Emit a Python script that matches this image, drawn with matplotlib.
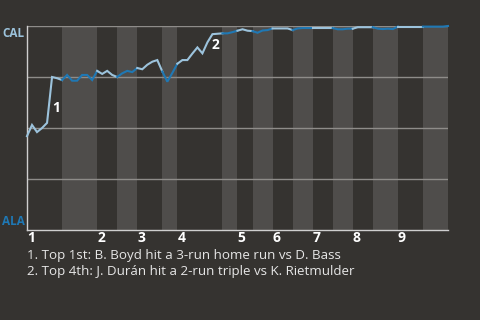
import numpy as np
import matplotlib.pyplot as plt

# CAL win probability after each plate appearance (0 = ALA, 1 = CAL)
win_prob = [0.46, 0.515, 0.48, 0.50, 0.525, 0.75, 0.744, 0.735,
            0.76, 0.732, 0.732, 0.76, 0.76, 0.735, 0.78,
            0.765, 0.78, 0.76, 0.75,
            0.768, 0.78, 0.774, 0.794,
            0.788, 0.81, 0.825, 0.833, 0.777,
            0.727, 0.77, 0.815,
            0.833, 0.833, 0.865, 0.895, 0.866, 0.92, 0.96, 0.962, 0.964,
            0.964, 0.97, 0.977,
            0.984, 0.977, 0.975,
            0.967, 0.978, 0.98, 0.988,
            0.988, 0.988, 0.988, 0.98,
            0.988, 0.99, 0.99, 0.99,
            0.99, 0.99, 0.99, 0.99,
            0.984, 0.984, 0.987, 0.987,
            0.994, 0.994, 0.994, 0.994,
            0.987, 0.985, 0.987, 0.985, 0.997,
            0.997, 0.997, 0.997, 0.997, 0.997,
            0.997, 0.997, 0.997, 0.997, 1.0]

# plate appearances per half inning (top, bottom, top, bottom, ...)
half_pa = [7, 7, 4, 4, 5, 3, 9, 3, 3, 4, 4, 4, 4, 4, 4, 5, 5, 5]
innings = ['1', '2', '3', '4', '5', '6', '7', '8', '9']

notes = [(5.1, 0.6, '1'), (36.9, 0.905, '2')]
footnotes = ['1. Top 1st: B. Boyd hit a 3-run home run vs D. Bass',
             '2. Top 4th: J. Durán hit a 2-run triple vs K. Rietmulder']

bg = '#353330'
band = '#4f4d4b'
light_blue = '#9cc3dc'
dark_blue = '#1f78b4'

plt.rcParams['font.family'] = ['Open Sans', 'DejaVu Sans']

fig = plt.figure(figsize=(4.8, 3.2), dpi=100, facecolor=bg)
ax = fig.add_axes([0.05625, 0.28125, 0.87708, 0.6375])
ax.set_facecolor(bg)

bounds = np.concatenate([[0], np.cumsum(half_pa)])
x = np.arange(len(win_prob))
wp = np.array(win_prob)

for i in range(len(half_pa)):
    a, b = bounds[i], bounds[i + 1]
    if i % 2 == 1:
        ax.axvspan(a, b, color=band, lw=0, zorder=0)
    ax.plot(x[a:b + 1], wp[a:b + 1], color=light_blue if i % 2 == 0 else dark_blue,
            lw=1.5, zorder=3, clip_on=False, solid_joinstyle='miter')

for yv in [0.25, 0.5, 0.75, 1.0]:
    ax.axhline(yv, color='#8e8c89', lw=1, zorder=1)

for px, py, t in notes:
    ax.text(px, py, t, color='white', fontsize=10, fontweight='bold',
            ha='left', va='center', zorder=4)

ax.set_xlim(0, bounds[-1])
ax.set_ylim(0, 1)
for s in ['top', 'right']:
    ax.spines[s].set_visible(False)
for s in ['left', 'bottom']:
    ax.spines[s].set_color('#cfcfcf')
    ax.spines[s].set_linewidth(1)

ax.set_yticks([])
ax.set_xticks(bounds[0:-1:2])
ax.set_xticklabels(innings)
ax.tick_params(axis='x', length=0, pad=1, colors='white', labelsize=10)
for lbl in ax.get_xticklabels():
    lbl.set_fontweight('bold')
    lbl.set_horizontalalignment('left')

ax.text(-0.005, 0.965, 'CAL', transform=ax.transAxes, color=light_blue,
        fontsize=8.5, fontweight='bold', ha='right', va='center')
ax.text(-0.005, 0.04, 'ALA', transform=ax.transAxes, color=dark_blue,
        fontsize=8.5, fontweight='bold', ha='right', va='center')

for k, t in enumerate(footnotes):
    fig.text(27 / 480, 1 - (255 + 17 * k) / 320, t, color='#e6e6e6', fontsize=9.6,
             ha='left', va='center')

fig.savefig('out.png', dpi=100, facecolor=bg)
